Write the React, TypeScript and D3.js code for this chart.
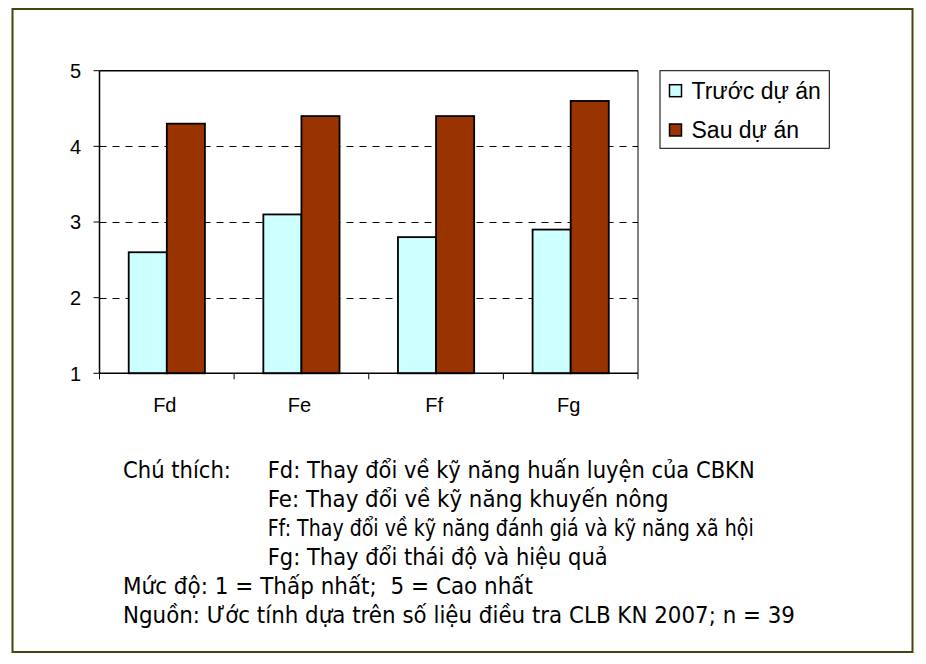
import React from "react";
import * as d3 from "d3";

const categories = ["Fd", "Fe", "Ff", "Fg"];
const beforeValues = [2.6, 3.1, 2.8, 2.9];
const afterValues = [4.3, 4.4, 4.4, 4.6];
const yTicks = [1, 2, 3, 4, 5];
const seriesNames = ["Trước dự án", "Sau dự án"];
const seriesColors = ["#CCFFFF", "#993300"];
const noteLabel = "Chú thích:";
const noteLines = [
  "Fd: Thay đổi về kỹ năng huấn luyện của CBKN",
  "Fe: Thay đổi về kỹ năng khuyến nông",
  "Ff: Thay đổi về kỹ năng đánh giá và kỹ năng xã hội",
  "Fg: Thay đổi thái độ và hiệu quả",
];
const scaleLine = "Mức độ: 1 = Thấp nhất;  5 = Cao nhất";
const sourceLine = "Nguồn: Ước tính dựa trên số liệu điều tra CLB KN 2007; n = 39";

const W = 926;
const H = 664;
const plot = { left: 99.5, right: 638, top: 70.7, bottom: 373.3 };

// rendered widths of caption lines (layout)
const labelWidth = 108;
const noteWidths = [487, 401, 486, 340];
const scaleWidth = 410;
const sourceWidth = 672;

export default function App() {
  const x = d3.scaleBand<string>().domain(categories).range([plot.left, plot.right]).padding(0);
  const y = d3.scaleLinear().domain([1, 5]).range([plot.bottom, plot.top]);
  const bw = x.bandwidth() * 0.283;
  const series = [beforeValues, afterValues];

  const captionFont = "'DejaVu Sans', Verdana, sans-serif";
  const captionSize = 23.5;
  const lineGap = 29;
  const x1 = 123;
  const x2 = 267.7;
  const baseY = 478;

  return (
    <svg width={W} height={H} style={{ position: "absolute", left: 0, top: 0 }} fontFamily="'Liberation Sans', Arial, sans-serif">
      <rect x={0} y={0} width={W} height={H} fill="#fff" />
      <rect x={12.5} y={9} width={900} height={643} fill="#fff" stroke="#45450f" strokeWidth={2} />

      {/* gridlines */}
      {yTicks.filter((t) => t > 1 && t < 5).map((t) => (
        <line key={t} x1={plot.left} x2={plot.right} y1={Math.round(y(t)) + 0.5} y2={Math.round(y(t)) + 0.5}
          stroke="#000" strokeWidth={1} strokeDasharray="7,6" />
      ))}

      {/* bars */}
      {series.map((vals, si) =>
        categories.map((c, i) => {
          const cx = (x(c) as number) + x.bandwidth() / 2;
          const bx = si === 0 ? cx - bw : cx;
          return (
            <rect key={`${si}-${c}`} x={bx} y={y(vals[i])} width={bw} height={y(1) - y(vals[i])}
              fill={seriesColors[si]} stroke="#000" strokeWidth={1.8} />
          );
        })
      )}

      {/* plot frame */}
      <line x1={plot.left} x2={plot.right} y1={plot.top} y2={plot.top} stroke="#000" strokeWidth={1.5} />
      <line x1={plot.right} x2={plot.right} y1={plot.top} y2={plot.bottom} stroke="#000" strokeWidth={1} />
      <line x1={plot.left} x2={plot.left} y1={plot.top} y2={plot.bottom} stroke="#000" strokeWidth={1.5} />
      <line x1={plot.left} x2={plot.right} y1={plot.bottom} y2={plot.bottom} stroke="#000" strokeWidth={1.5} />

      {/* y ticks */}
      {yTicks.map((t) => (
        <g key={t}>
          <line x1={plot.left - 6} x2={plot.left} y1={y(t)} y2={y(t)} stroke="#000" strokeWidth={1} />
          <text x={81} y={y(t)} dy="0.36em" textAnchor="end" fontSize={20} fill="#000">{t}</text>
        </g>
      ))}

      {/* x ticks */}
      {[...categories.map((c) => x(c) as number), plot.right].map((v, i) => (
        <line key={i} x1={v} x2={v} y1={plot.bottom} y2={plot.bottom + 6} stroke="#000" strokeWidth={1} />
      ))}
      {categories.map((c) => (
        <text key={c} x={(x(c) as number) + x.bandwidth() / 2 - 2} y={412} textAnchor="middle" fontSize={20} fill="#000">{c}</text>
      ))}

      {/* legend */}
      <rect x={660} y={70.7} width={169.3} height={77.6} fill="#fff" stroke="#000" strokeWidth={1} />
      {seriesNames.map((n, i) => {
        const cy = 90.7 + i * 39.3;
        return (
          <g key={n}>
            <rect x={669.5} y={cy - 6} width={12} height={12} fill={seriesColors[i]} stroke="#000" strokeWidth={1.5} />
            <text x={691.5} y={cy} dy="0.36em" fontSize={23} fill="#000">{n}</text>
          </g>
        );
      })}

      {/* caption */}
      <g fontFamily={captionFont} fontSize={captionSize} fill="#000">
        <text x={x1} y={baseY} textLength={labelWidth} lengthAdjust="spacingAndGlyphs">{noteLabel}</text>
        {noteLines.map((l, i) => (
          <text key={i} x={x2} y={baseY + i * lineGap} textLength={noteWidths[i]} lengthAdjust="spacingAndGlyphs">{l}</text>
        ))}
        <text x={x1} y={baseY + 4 * lineGap} textLength={scaleWidth} lengthAdjust="spacingAndGlyphs" style={{ whiteSpace: "pre" }}>{scaleLine}</text>
        <text x={x1} y={baseY + 5 * lineGap} textLength={sourceWidth} lengthAdjust="spacingAndGlyphs">{sourceLine}</text>
      </g>
    </svg>
  );
}
